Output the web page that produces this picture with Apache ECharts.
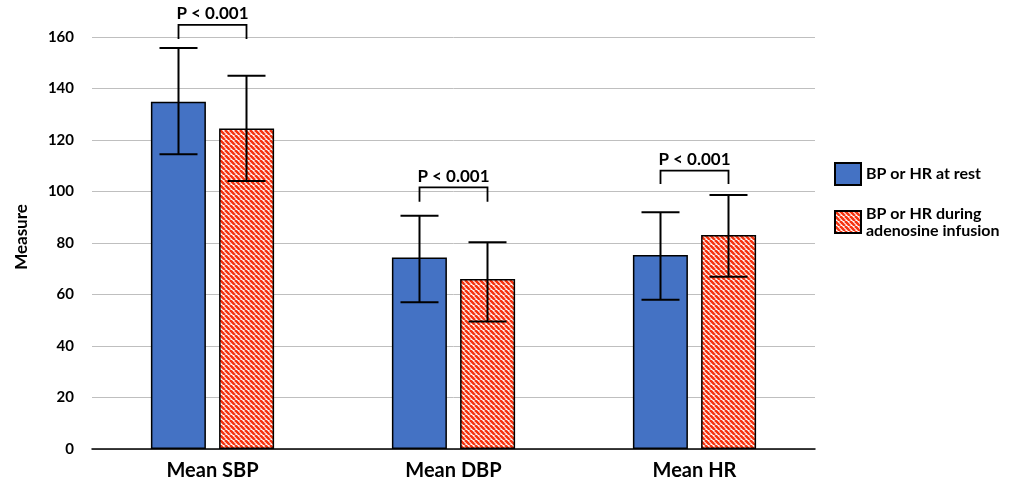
<!DOCTYPE html>
<html>
<head>
<meta charset="utf-8">
<script src="https://cdn.jsdelivr.net/npm/echarts@6/dist/echarts.min.js"></script>
<style>
html,body{margin:0;padding:0;background:#fff;}
#chart{width:1025px;height:488px;}
</style>
</head>
<body>
<div id="chart"></div>
<script>
const categories = ['Mean SBP', 'Mean DBP', 'Mean HR'];
const seriesNames = ['BP or HR at rest', 'BP or HR during\nadenosine infusion'];
const restMean = [134.9, 74.4, 75.3];
const restLow = [114.5, 57.0, 58.0];
const restHigh = [155.7, 90.6, 91.9];
const adenoMean = [124.5, 66.0, 83.1];
const adenoLow = [104.1, 49.5, 66.9];
const adenoHigh = [145.0, 80.3, 98.6];
const pLabels = ['P < 0.001', 'P < 0.001', 'P < 0.001'];
const bracketTop = [164.7, 101.6, 108.1];
const bracketLeg = [159.2, 96.0, 102.9];
const yTicks = [0, 20, 40, 60, 80, 100, 120, 140, 160];

const FONT = 'Lato, "Open Sans", sans-serif';
const BAR_W = 55;
const HALF_SPACING = 34;
const CAP_HALF = 19;

function makeHatch() {
  const s = 5;
  const c = document.createElement('canvas');
  c.width = s; c.height = s;
  const ctx = c.getContext('2d');
  ctx.fillStyle = '#ffffff';
  ctx.fillRect(0, 0, s, s);
  ctx.strokeStyle = '#f5330f';
  ctx.lineWidth = 2.6;
  for (let k = -1; k <= 1; k++) {
    ctx.beginPath();
    ctx.moveTo(k * s, 0);
    ctx.lineTo(k * s + s, s);
    ctx.stroke();
  }
  return c;
}
const hatch = { image: makeHatch(), repeat: 'repeat' };

function errData(low, high) {
  return low.map((l, i) => [i, l, high[i]]);
}

function errRender(offset) {
  return function (params, api) {
    const i = api.value(0);
    const lo = api.coord([i, api.value(1)]);
    const hi = api.coord([i, api.value(2)]);
    const x = lo[0] + offset;
    const st = { stroke: '#000', lineWidth: 2 };
    return {
      type: 'group',
      children: [
        { type: 'line', shape: { x1: x, y1: lo[1], x2: x, y2: hi[1] }, style: st },
        { type: 'line', shape: { x1: x - CAP_HALF, y1: lo[1], x2: x + CAP_HALF, y2: lo[1] }, style: st },
        { type: 'line', shape: { x1: x - CAP_HALF, y1: hi[1], x2: x + CAP_HALF, y2: hi[1] }, style: st }
      ]
    };
  };
}

const bracketData = categories.map((c, i) => [i, bracketTop[i], bracketLeg[i]]);

const chart = echarts.init(document.getElementById('chart'));
chart.setOption({
  animation: false,
  grid: { left: 92, right: 210, top: 37, bottom: 39 },
  legend: {
    orient: 'vertical',
    left: 829,
    top: 157,
    itemWidth: 26,
    itemHeight: 22,
    itemGap: 19,
    icon: 'rect',
    textStyle: { fontFamily: FONT, fontWeight: 'bold', fontSize: 16, color: '#000', lineHeight: 17 },
    data: seriesNames
  },
  xAxis: {
    type: 'category',
    data: categories,
    axisLine: { lineStyle: { color: '#000', width: 1.5 } },
    axisTick: { show: false },
    axisLabel: { fontFamily: FONT, fontWeight: 'bold', fontSize: 20, color: '#000', margin: 12 }
  },
  yAxis: {
    type: 'value',
    min: 0, max: 160, interval: 20,
    name: 'Measure',
    nameLocation: 'middle',
    nameGap: 62,
    nameTextStyle: { fontFamily: FONT, fontWeight: 'bold', fontSize: 17, color: '#000', padding: [0, 0, 0, 12] },
    axisLine: { show: false },
    axisTick: { show: false },
    splitLine: { lineStyle: { color: '#bfbfbf', width: 1 } },
    axisLabel: {
      fontFamily: FONT, fontWeight: 'bold', fontSize: 15, color: '#000', margin: 18,
      formatter: v => yTicks.includes(v) ? String(v) : ''
    }
  },
  series: [
    {
      name: seriesNames[0], type: 'bar', data: restMean,
      barWidth: BAR_W, barGap: '24%',
      itemStyle: { color: '#4472c4', borderColor: '#000', borderWidth: 1.5 }
    },
    {
      name: seriesNames[1], type: 'bar', data: adenoMean,
      barWidth: BAR_W,
      itemStyle: { color: hatch, borderColor: '#000', borderWidth: 1.5 }
    },
    {
      type: 'custom', data: errData(restLow, restHigh), renderItem: errRender(-HALF_SPACING),
      z: 5, clip: false, silent: true, encode: { x: 0, y: [1, 2] }
    },
    {
      type: 'custom', data: errData(adenoLow, adenoHigh), renderItem: errRender(HALF_SPACING),
      z: 5, clip: false, silent: true, encode: { x: 0, y: [1, 2] }
    },
    {
      type: 'custom', data: bracketData, z: 6, clip: false, silent: true,
      encode: { x: 0, y: [1, 2] },
      renderItem: function (params, api) {
        const i = api.value(0);
        const top = api.coord([i, api.value(1)]);
        const leg = api.coord([i, api.value(2)]);
        const x1 = top[0] - HALF_SPACING, x2 = top[0] + HALF_SPACING;
        return {
          type: 'group',
          children: [
            { type: 'polyline', shape: { points: [[x1, leg[1]], [x1, top[1]], [x2, top[1]], [x2, leg[1]]] },
              style: { stroke: '#000', lineWidth: 1.8, fill: null } },
            { type: 'text', style: { text: pLabels[i], x: top[0], y: top[1] - 11, align: 'center', verticalAlign: 'middle',
              font: 'bold 17px ' + FONT, fill: '#000' } }
          ]
        };
      }
    }
  ]
});
</script>
</body>
</html>
